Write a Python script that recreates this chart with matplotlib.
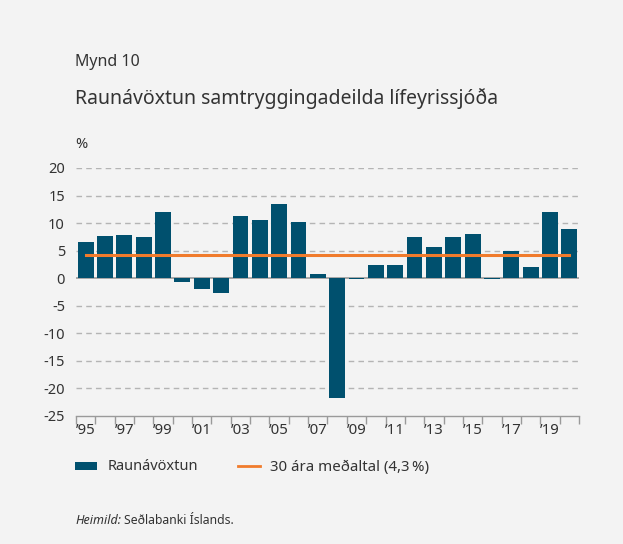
import matplotlib
matplotlib.use("Agg")
import matplotlib.pyplot as plt
from matplotlib.patches import Rectangle
from matplotlib.lines import Line2D
import numpy as np

plt.rcParams['font.family'] = ['Noto Sans', 'DejaVu Sans']

years = list(range(1995, 2021))
values = [6.6, 7.7, 7.9, 7.5, 12.0, -0.7, -1.9, -2.6, 11.2, 10.6, 13.5, 10.2,
          0.8, -21.8, -0.1, 2.4, 2.4, 7.5, 5.7, 7.5, 8.1, -0.1, 5.0, 2.1, 12.1, 9.0]
average = 4.3
yticks = [20, 15, 10, 5, 0, -5, -10, -15, -20, -25]
xlabel_years = list(range(1995, 2020, 2))

bar_color = '#00506e'
line_color = '#f07b2c'
bg = '#f3f3f3'
txt = '#333333'

fig = plt.figure(figsize=(6.23, 5.44), dpi=100, facecolor=bg)
ax = fig.add_axes([76/623, 1-416/544, (579-76)/623, (416-168)/544])
ax.set_facecolor(bg)

ax.bar(years, values, width=0.82, color=bar_color, zorder=3)
ax.plot([years[0], years[-1]], [average, average], color=line_color, lw=2.2, zorder=4)

ax.set_xlim(years[0]-0.5, years[-1]+0.5)
ax.set_ylim(-25, 20)

for y in yticks:
    if y == 0:
        ax.axhline(0, color='#9a9a9a', lw=1.2, zorder=2)
    elif y != -25:
        ax.axhline(y, color='#b4b4b4', lw=1.0, ls=(0, (4, 3)), zorder=1)

ax.set_yticks(yticks)
ax.set_yticklabels([str(v) for v in yticks], fontsize=10.5, color=txt)
ax.tick_params(axis='y', length=0, pad=8)

ax.set_xticks(xlabel_years)
ax.set_xticklabels(['\u2019' + str(y)[2:] for y in xlabel_years], fontsize=10.8, color=txt)
ax.set_xticks(np.arange(years[0]-0.5, years[-1]+1.0, 1.0), minor=True)
ax.tick_params(axis='x', which='major', length=0, pad=5)
ax.tick_params(axis='x', which='minor', length=6, width=1.0, color='#9a9a9a', direction='out')

for s in ['top', 'right', 'left']:
    ax.spines[s].set_visible(False)
ax.spines['bottom'].set_color('#9a9a9a')
ax.spines['bottom'].set_linewidth(1.0)

fig.text(75/623, 1-62/544, 'Mynd 10', fontsize=11.5, color=txt, va='center')
fig.text(75/623, 1-98/544, 'Raunávöxtun samtryggingadeilda lífeyrissjóða', fontsize=14, color=txt, va='center')
fig.text(75/623, 1-145/544, '%', fontsize=10.5, color=txt, va='center')

# legend
fig.patches.append(Rectangle((75/623, 1-470/544), 22/623, 8/544, transform=fig.transFigure,
                             facecolor=bar_color, edgecolor='none'))
fig.text(108/623, 1-467/544, 'Raunávöxtun', fontsize=10.5, color=txt, va='center')
fig.lines.append(Line2D([238/623, 260/623], [1-466/544, 1-466/544], transform=fig.transFigure,
                        color=line_color, lw=2))
fig.text(270/623, 1-467/544, '30 ára meðaltal (4,3\u2009%)', fontsize=10.8, color=txt, va='center')

fig.text(75/623, 1-520/544, 'Heimild:', fontsize=9, color=txt, va='center', style='italic')
fig.text(124/623, 1-520/544, 'Seðlabanki Íslands.', fontsize=8.8, color=txt, va='center')

fig.savefig('out.png', dpi=100, facecolor=bg)
